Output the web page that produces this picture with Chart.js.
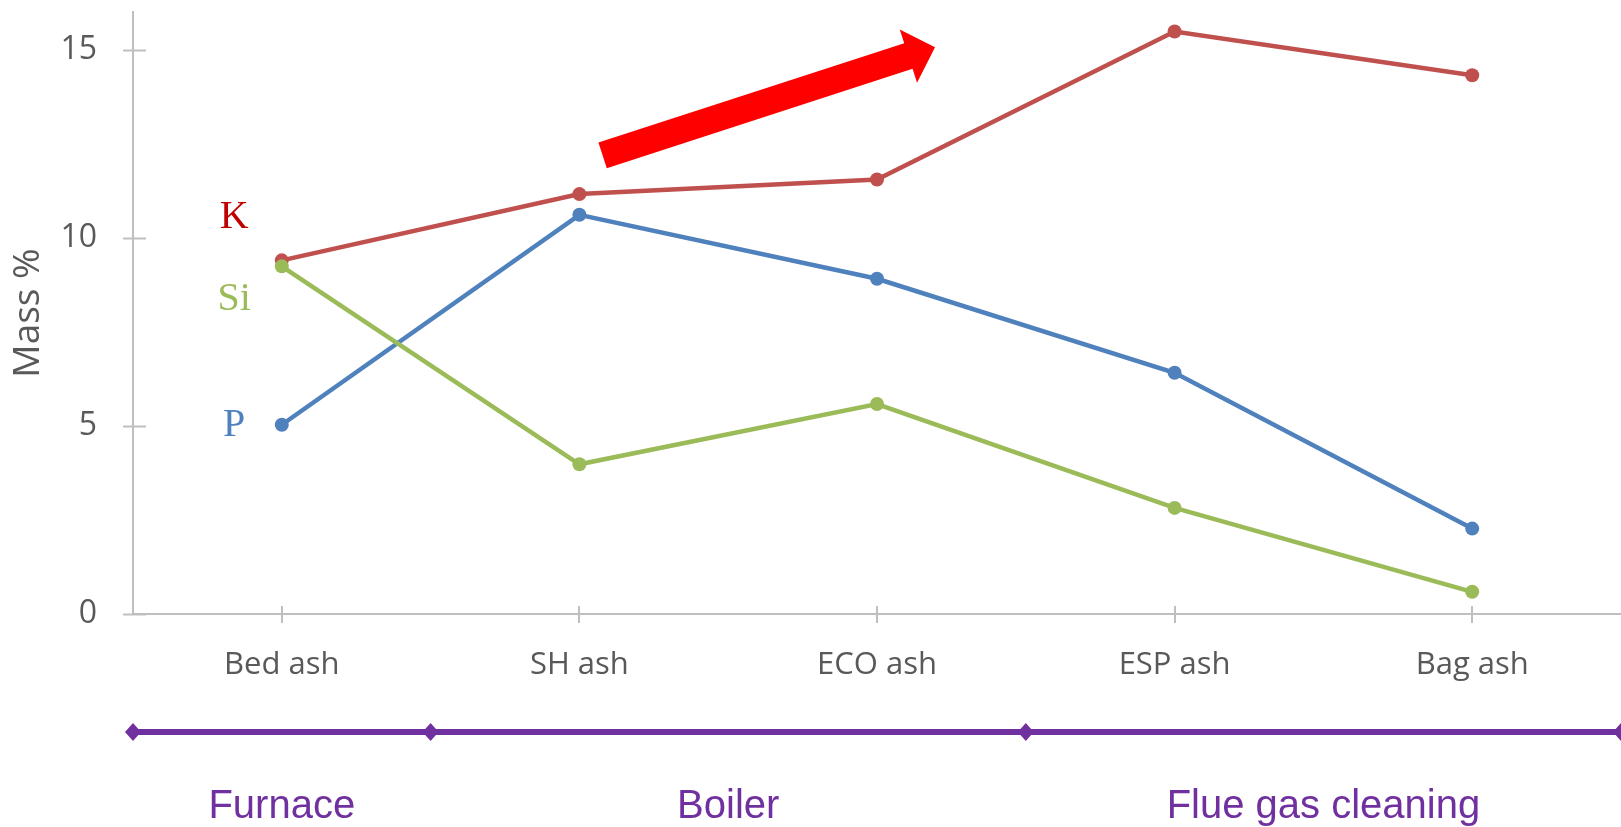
<!DOCTYPE html>
<html>
<head>
<meta charset="utf-8">
<script src="https://cdn.jsdelivr.net/npm/chart.js@4/dist/chart.umd.min.js"></script>
<style>
  html, body { margin: 0; padding: 0; background: #ffffff; }
  #wrap { width: 1621px; height: 827px; position: relative; }
</style>
</head>
<body>
<div id="wrap"><canvas id="c" width="1621" height="827"></canvas></div>
<script>
// ---- data ----
const categories = ['Bed ash', 'SH ash', 'ECO ash', 'ESP ash', 'Bag ash'];
const K  = [9.40, 11.16, 11.55, 15.48, 14.32];
const P  = [5.03, 10.61, 8.91, 6.41, 2.27];
const Si = [9.24, 3.98, 5.58, 2.82, 0.59];
const yTicks = [0, 5, 10, 15];
const yMax = 16;

// element labels (text, value position)
const elementLabels = ['K', 'Si', 'P'];
const elementLabelValues = [10.55, 8.35, 5.0];
const elementLabelColors = ['#C00000', '#9BBB59', '#4F81BD'];
const elementLabelIndex = -0.16;

// process stages below the axis
const stageNames = ['Furnace', 'Boiler', 'Flue gas cleaning'];
const stageBounds = [-0.5, 0.5, 2.5, 4.5];

// trend arrow (category index, value)
const arrowFrom = [1.078, 12.19];
const arrowTo = [2.195, 15.06];

const AXIS = '#bfbfbf';
const TEXT = '#595959';
const PURPLE = '#7030A0';

const overlay = {
  id: 'overlay',
  afterDraw(chart) {
    const ctx = chart.ctx;
    const xs = chart.scales.x, ys = chart.scales.y;
    const area = chart.chartArea;
    ctx.save();
    // crossing tick marks
    ctx.strokeStyle = AXIS; ctx.lineWidth = 2;
    yTicks.forEach(v => {
      const py = Math.round(ys.getPixelForValue(v)) + 0.5;
      ctx.beginPath(); ctx.moveTo(area.left - 10, py); ctx.lineTo(area.left + 13, py); ctx.stroke();
    });
    categories.forEach((c, i) => {
      const px = Math.round(xs.getPixelForValue(i));
      ctx.beginPath(); ctx.moveTo(px, area.bottom - 8); ctx.lineTo(px, area.bottom + 9); ctx.stroke();
    });

    // element labels
    ctx.font = '40px "Liberation Serif", "Times New Roman", serif';
    ctx.textAlign = 'center'; ctx.textBaseline = 'middle';
    elementLabels.forEach((t, i) => {
      ctx.fillStyle = elementLabelColors[i];
      ctx.fillText(t, xs.getPixelForValue(elementLabelIndex), ys.getPixelForValue(elementLabelValues[i]));
    });

    // arrow
    const x0 = xs.getPixelForValue(arrowFrom[0]), y0 = ys.getPixelForValue(arrowFrom[1]);
    const x1 = xs.getPixelForValue(arrowTo[0]), y1 = ys.getPixelForValue(arrowTo[1]);
    const ang = Math.atan2(y1 - y0, x1 - x0);
    const len = Math.hypot(x1 - x0, y1 - y0);
    const shaftW = 27, headW = 56, headL = 28;
    ctx.translate(x0, y0); ctx.rotate(ang);
    ctx.fillStyle = '#FF0000';
    ctx.beginPath();
    ctx.moveTo(0, -shaftW / 2);
    ctx.lineTo(len - headL, -shaftW / 2);
    ctx.lineTo(len - headL, -headW / 2);
    ctx.lineTo(len, 0);
    ctx.lineTo(len - headL, headW / 2);
    ctx.lineTo(len - headL, shaftW / 2);
    ctx.lineTo(0, shaftW / 2);
    ctx.closePath(); ctx.fill();
    ctx.setTransform(1, 0, 0, 1, 0, 0);

    // stage band
    const bandY = 732;
    const bx = stageBounds.map(b => xs.getPixelForValue(b));
    ctx.strokeStyle = PURPLE; ctx.lineWidth = 6;
    ctx.beginPath(); ctx.moveTo(bx[0], bandY); ctx.lineTo(bx[bx.length - 1], bandY); ctx.stroke();
    ctx.fillStyle = PURPLE;
    bx.forEach(px => {
      ctx.beginPath();
      ctx.moveTo(px, bandY - 9); ctx.lineTo(px + 8, bandY); ctx.lineTo(px, bandY + 9); ctx.lineTo(px - 8, bandY);
      ctx.closePath(); ctx.fill();
    });
    ctx.font = '40px "Liberation Sans", Arial, sans-serif';
    ctx.textAlign = 'center'; ctx.textBaseline = 'alphabetic';
    stageNames.forEach((n, i) => {
      const cx = xs.getPixelForValue((stageBounds[i] + stageBounds[i + 1]) / 2);
      ctx.fillText(n, cx, 818);
    });
    ctx.restore();
  }
};

function ds(label, data, color) {
  return {
    label, data, borderColor: color, backgroundColor: color,
    pointBackgroundColor: color, pointBorderColor: color,
    borderWidth: 4.5, pointRadius: 7, pointBorderWidth: 0, tension: 0
  };
}

new Chart(document.getElementById('c'), {
  type: 'line',
  data: {
    labels: categories,
    datasets: [ds('Si', Si, '#9BBB59'), ds('P', P, '#4F81BD'), ds('K', K, '#C0504D')]
  },
  options: {
    responsive: false,
    animation: false,
    layout: { autoPadding: false, padding: { top: 12, right: -6, bottom: 0, left: 0 } },
    plugins: { legend: { display: false }, tooltip: { enabled: false } },
    scales: {
      x: {
        offset: true,
        grid: { display: true, drawOnChartArea: false, drawTicks: false, offset: false },
        border: { display: true, color: AXIS, width: 2 },
        ticks: { color: TEXT, font: { family: '"Open Sans"', size: 31 }, padding: 33, maxRotation: 0 },
        afterFit(s) { s.height = 213; s.paddingLeft = 0; s.paddingRight = 0; }
      },
      y: {
        min: 0, max: yMax,
        grid: { display: true, drawOnChartArea: false, drawTicks: false },
        border: { display: true, color: AXIS, width: 2 },
        afterBuildTicks(s) { s.ticks = yTicks.map(v => ({ value: v })); },
        ticks: { color: TEXT, font: { family: '"Open Sans"', size: 32 }, padding: 36 },
        title: { display: true, text: 'Mass %', color: TEXT, font: { family: '"Open Sans"', size: 37 }, padding: { top: 6, bottom: 0 } },
        afterFit(s) { s.width = 133; s.paddingTop = 0; s.paddingBottom = 0; }
      }
    }
  },
  plugins: [overlay]
});
</script>
</body>
</html>
